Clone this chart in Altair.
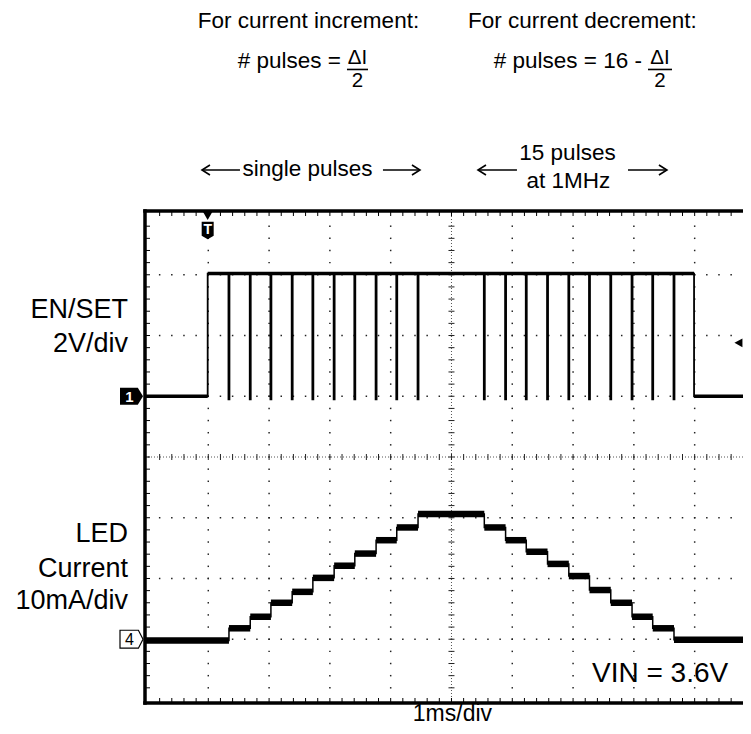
import altair as alt
import pandas as pd

# ---------------- values ----------------
# time axis in ms (1 ms/div), vertical positions in screen divisions from the centre line
PULSE_TIMES = [1.34, 1.69, 2.03, 2.38, 2.72, 3.07, 3.41, 3.76, 4.10, 4.45,
               5.54, 5.89, 6.23, 6.58, 6.93, 7.27, 7.62, 7.97, 8.31, 8.66]
EN_LOW = 1.0        # EN/SET low level (div)
EN_HIGH = 3.02      # EN/SET high level (div)
EN_SPIKE = 0.95     # bottom of each low-going pulse (div)
EN_RISE = 0.99      # EN goes high (ms)
EN_FALL = 8.99      # EN goes low (ms)
LED_LEVELS = [-3.02, -2.82, -2.63, -2.40, -2.22, -1.99, -1.79, -1.59, -1.37, -1.16, -0.94,
              -1.16, -1.37, -1.56, -1.76, -1.96, -2.19, -2.40, -2.63, -2.82, -3.01]

FONT = "Liberation Sans"

# ---------------- scales (screen = 10 x 8 divisions, right edge cropped) ----------------
T_MIN, T_MAX = -0.041, 9.795
V_MIN, V_MAX = -4.05, 4.05
XS = alt.Scale(domain=[T_MIN, T_MAX], nice=False, zero=False)
YS = alt.Scale(domain=[V_MIN, V_MAX], nice=False, zero=False)


def X(f):
    return alt.X(f, type="quantitative", scale=XS, axis=None)


def Y(f):
    return alt.Y(f, type="quantitative", scale=YS, axis=None)


# ---------------- graticule ----------------
t_minor = [round(0.2 * k, 1) for k in range(1, 49)]
v_minor = [round(-4 + 0.2 * k, 1) for k in range(1, 40)]
dots = pd.DataFrame(
    [{"t": t, "v": v} for v in [-3, -2, -1, 1, 2, 3] for t in t_minor]
    + [{"t": t, "v": v} for t in [1, 2, 3, 4, 6, 7, 8, 9] for v in v_minor]
)
grid_dots = alt.Chart(dots).mark_square(size=2.2, color="#222", opacity=1).encode(x=X("t"), y=Y("v"))

centre = pd.DataFrame([
    {"t": 5, "t2": 5, "v": V_MIN, "v2": V_MAX},
    {"t": T_MIN, "t2": T_MAX, "v": 0, "v2": 0},
])
centre_lines = alt.Chart(centre).mark_rule(color="#555", strokeWidth=1, strokeDash=[1, 2]).encode(
    x=X("t"), x2="t2", y=Y("v"), y2="v2")

ticks_v = alt.Chart(pd.DataFrame({"t": [5] * len(v_minor), "v": v_minor})).mark_point(
    shape="M-1,0L1,0", size=36, filled=False, color="#222", strokeWidth=1, opacity=1
).encode(x=X("t"), y=Y("v"))
ticks_h = alt.Chart(pd.DataFrame({"t": t_minor, "v": [0] * len(t_minor)})).mark_point(
    shape="M0,-1L0,1", size=36, filled=False, color="#222", strokeWidth=1, opacity=1
).encode(x=X("t"), y=Y("v"))

bt_left = alt.Chart(pd.DataFrame({"t": [T_MIN] * len(v_minor), "v": v_minor})).mark_point(
    shape="M0,0L2,0", size=25, filled=False, color="#000", strokeWidth=1, opacity=1
).encode(x=X("t"), y=Y("v"))
bt_top = alt.Chart(pd.DataFrame({"t": t_minor, "v": [V_MAX] * len(t_minor)})).mark_point(
    shape="M0,0L0,2", size=25, filled=False, color="#000", strokeWidth=1, opacity=1
).encode(x=X("t"), y=Y("v"))
bt_bottom = alt.Chart(pd.DataFrame({"t": t_minor, "v": [V_MIN] * len(t_minor)})).mark_point(
    shape="M0,0L0,-2", size=25, filled=False, color="#000", strokeWidth=1, opacity=1
).encode(x=X("t"), y=Y("v"))

frame = pd.DataFrame([
    {"t": T_MIN, "t2": T_MIN, "v": V_MIN, "v2": V_MAX},
    {"t": T_MIN, "t2": T_MAX, "v": V_MAX, "v2": V_MAX},
    {"t": T_MIN, "t2": T_MAX, "v": V_MIN, "v2": V_MIN},
])
frame_rules = alt.Chart(frame).mark_rule(color="#000", strokeWidth=3.5, strokeCap="square").encode(
    x=X("t"), x2="t2", y=Y("v"), y2="v2")

# ---------------- EN/SET trace ----------------
hw = 0.008
en_pts = [(T_MIN, EN_LOW), (EN_RISE, EN_LOW), (EN_RISE, EN_HIGH)]
for p in PULSE_TIMES:
    en_pts += [(p - hw, EN_HIGH), (p - hw, EN_SPIKE), (p + hw, EN_SPIKE), (p + hw, EN_HIGH)]
en_pts += [(EN_FALL, EN_HIGH), (EN_FALL, EN_LOW), (T_MAX, EN_LOW)]
en_df = pd.DataFrame([{"t": t, "v": v, "i": i} for i, (t, v) in enumerate(en_pts)])
en_line = alt.Chart(en_df).mark_line(color="#000", strokeWidth=1.8, strokeJoin="miter").encode(
    x=X("t"), y=Y("v"), order="i:Q")
en_flat_df = pd.DataFrame([
    {"t": T_MIN, "t2": EN_RISE, "v": EN_LOW},
    {"t": EN_RISE, "t2": EN_FALL, "v": EN_HIGH},
    {"t": EN_FALL, "t2": T_MAX, "v": EN_LOW},
])
en_flat = alt.Chart(en_flat_df).mark_rule(color="#000", strokeWidth=3.6).encode(
    x=X("t"), x2="t2", y=Y("v"))

# ---------------- LED current trace ----------------
bounds = [T_MIN] + PULSE_TIMES + [T_MAX]
led_pts = [(T_MIN, LED_LEVELS[0])]
for k, p in enumerate(PULSE_TIMES):
    led_pts += [(p, LED_LEVELS[k]), (p, LED_LEVELS[k + 1])]
led_pts.append((T_MAX, LED_LEVELS[-1]))
led_df = pd.DataFrame([{"t": t, "v": v, "i": i} for i, (t, v) in enumerate(led_pts)])
led_line = alt.Chart(led_df).mark_line(color="#000", strokeWidth=1.5).encode(
    x=X("t"), y=Y("v"), order="i:Q")
led_flat_df = pd.DataFrame([
    {"t": bounds[k], "t2": bounds[k + 1], "v": LED_LEVELS[k]} for k in range(len(LED_LEVELS))
])
led_flat = alt.Chart(led_flat_df).mark_rule(color="#000", strokeWidth=6.5).encode(
    x=X("t"), x2="t2", y=Y("v"))

# ---------------- scope markers ----------------
m1 = alt.Chart(pd.DataFrame({"t": [-0.263], "v": [EN_LOW]})).mark_point(
    shape="M-1,-0.74L0.55,-0.74L1,0L0.55,0.74L-1,0.74Z", size=529, filled=True, color="#000", opacity=1
).encode(x=X("t"), y=Y("v"))
m1_txt = alt.Chart(pd.DataFrame({"t": [-0.263], "v": [EN_LOW], "s": ["1"]})).mark_text(
    font=FONT, fontSize=15, fontWeight="bold", color="#fff", dx=-2, dy=1, baseline="middle", align="center"
).encode(x=X("t"), y=Y("v"), text="s")
m4 = alt.Chart(pd.DataFrame({"t": [-0.263], "v": [-3.0]})).mark_point(
    shape="M-1,-0.78L0.6,-0.78L1,0L0.6,0.78L-1,0.78Z", size=529, filled=True, fill="#fff",
    stroke="#000", strokeWidth=1.2, opacity=1
).encode(x=X("t"), y=Y("v"))
m4_txt = alt.Chart(pd.DataFrame({"t": [-0.263], "v": [-3.0], "s": ["4"]})).mark_text(
    font=FONT, fontSize=16, color="#000", dx=-2, dy=1, baseline="middle", align="center"
).encode(x=X("t"), y=Y("v"), text="s")

trig_tri = alt.Chart(pd.DataFrame({"t": [EN_RISE], "v": [3.97]})).mark_point(
    shape="triangle-down", size=90, filled=True, color="#000", opacity=1
).encode(x=X("t"), y=Y("v"))
trig_shield = alt.Chart(pd.DataFrame({"t": [EN_RISE], "v": [3.73]})).mark_point(
    shape="M-1,-1.45L1,-1.45L1,0.9L0,1.45L-1,0.9Z", size=144, filled=True, color="#000", opacity=1
).encode(x=X("t"), y=Y("v"))
trig_txt = alt.Chart(pd.DataFrame({"t": [EN_RISE], "v": [3.73], "s": ["T"]})).mark_text(
    font=FONT, fontSize=14, fontWeight="bold", color="#fff", baseline="middle", align="center", dy=0
).encode(x=X("t"), y=Y("v"), text="s")
lvl = alt.Chart(pd.DataFrame({"t": [9.72], "v": [1.88]})).mark_point(
    shape="M-1,0L1,-1.1L1,1.1Z", size=64, filled=True, color="#000", opacity=1
).encode(x=X("t"), y=Y("v"))

# ---------------- annotations ----------------
def texts(rows, size, align, baseline="alphabetic"):
    return alt.Chart(pd.DataFrame(rows)).mark_text(
        font=FONT, fontSize=size, align=align, baseline=baseline, color="#000"
    ).encode(x=X("t"), y=Y("v"), text="s")


left_labels = texts([
    {"s": "EN/SET", "t": -0.321, "v": 2.288},
    {"s": "2V/div", "t": -0.321, "v": 1.729},
    {"s": "LED", "t": -0.321, "v": -1.399},
    {"s": "Current", "t": -0.321, "v": -1.976},
    {"s": "10mA/div", "t": -0.321, "v": -2.50},
], 27, "right")
bottom_label = texts([{"s": "1ms/div", "t": 5.016, "v": -4.354}], 23, "center")
vin_label = texts([{"s": "VIN = 3.6V", "t": 7.311, "v": -3.704}], 28, "left")

top_center = texts([
    {"s": "For current increment:", "t": 2.648, "v": 7.063},
    {"s": "single pulses", "t": 2.632, "v": 4.626},
    {"s": "15 pulses", "t": 6.908, "v": 4.890},
    {"s": "at 1MHz", "t": 6.924, "v": 4.429},
], 22.5, "center")
fractions = texts([
    {"s": "ΔI", "t": 3.454, "v": 6.47},
    {"s": "2", "t": 3.454, "v": 6.09},
    {"s": "ΔI", "t": 8.429, "v": 6.47},
    {"s": "2", "t": 8.429, "v": 6.09},
], 20.5, "center")
top_left = texts([{"s": "For current decrement:", "t": 5.271, "v": 7.063}], 22.5, "left")
top_right = texts([
    {"s": "# pulses =", "t": 3.183, "v": 6.405},
    {"s": "# pulses = 16 -", "t": 8.133, "v": 6.405},
], 22.5, "right")

bars = alt.Chart(pd.DataFrame([
    {"t": 3.281, "t2": 3.627, "v": 6.38},
    {"t": 8.232, "t2": 8.627, "v": 6.38},
    {"t": 0.896, "t2": 1.521, "v": 4.725},
    {"t": 3.873, "t2": 4.482, "v": 4.725},
    {"t": 5.436, "t2": 6.077, "v": 4.725},
    {"t": 7.903, "t2": 8.544, "v": 4.725},
])).mark_rule(color="#000", strokeWidth=1.6).encode(x=X("t"), x2="t2", y=Y("v"))
heads_l = alt.Chart(pd.DataFrame({"t": [0.896, 5.436], "v": [4.725, 4.725]})).mark_point(
    shape="M2,-1.25L0,0L2,1.25", size=64, filled=False, color="#000", strokeWidth=1.6, opacity=1
).encode(x=X("t"), y=Y("v"))
heads_r = alt.Chart(pd.DataFrame({"t": [4.482, 8.544], "v": [4.725, 4.725]})).mark_point(
    shape="M-2,-1.25L0,0L-2,1.25", size=64, filled=False, color="#000", strokeWidth=1.6, opacity=1
).encode(x=X("t"), y=Y("v"))

chart = alt.layer(
    grid_dots, centre_lines, ticks_v, ticks_h, bt_left, bt_top, bt_bottom,
    led_line, led_flat, en_line, en_flat, frame_rules,
    m1, m1_txt, m4, m4_txt, trig_tri, trig_shield, trig_txt, lvl,
    left_labels, bottom_label, vin_label, top_center, fractions, top_left, top_right,
    bars, heads_l, heads_r,
).properties(
    width=598, height=492,
    autosize=alt.AutoSizeParams(type="none"),
    padding={"left": 137, "top": 203, "right": 0, "bottom": 23},
).configure_view(stroke=None).configure(background="#ffffff")

chart.save("out.html", embed_options={"renderer": "svg", "actions": False})
